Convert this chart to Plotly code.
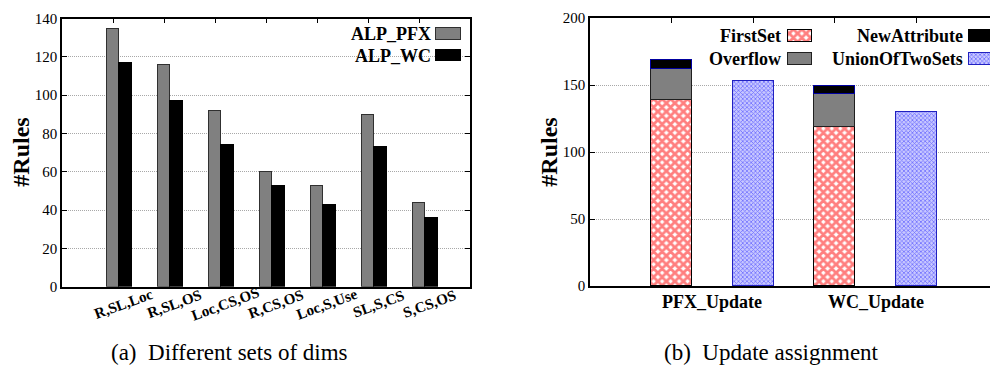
import plotly.graph_objects as go

W, H = 990, 379

# ---------------- data ----------------
dims_labels = ["R,SL,Loc", "R,SL,OS", "Loc,CS,OS", "R,CS,OS", "Loc,S,Use", "SL,S,CS", "S,CS,OS"]
alp_pfx = [135, 116, 92, 60, 53, 90, 44]
alp_wc = [117, 97, 74, 53, 43, 73, 36]

update_labels = ["PFX_Update", "WC_Update"]
first_set = [139, 119]
overflow = [23, 24]
new_attribute = [7, 6]
union_two_sets = [153, 130]

captions = ["(a)\u2002Different sets of dims", "(b)\u2002Update assignment"]

# ---------------- styling ----------------
SERIF = "Liberation Serif"
RED_PAT = dict(shape="x", fgcolor="#ff0000", bgcolor="white", size=6, solidity=0.72)
BLUE_PAT = dict(shape="x", fgcolor="#1515ff", bgcolor="#c8c8ff", size=3, solidity=0.45)
GRAY = "#808080"
GRID = dict(showgrid=True, gridcolor="#a8a8a8", griddash="1px,1px", gridwidth=1)


def px_x(p):
    return p / W


def px_y(p):
    return 1 - p / H


fig = go.Figure()

# ---- left chart: clustered bars ----
n = len(dims_labels)
bw = 0.25
fig.add_trace(go.Bar(x=list(range(n)), y=alp_pfx, width=bw, name="ALP_PFX",
                     marker=dict(color=GRAY, line=dict(color="#303030", width=1)),
                     xaxis="x", yaxis="y", showlegend=False))
fig.add_trace(go.Bar(x=[i + bw for i in range(n)], y=alp_wc, width=bw, name="ALP_WC",
                     marker=dict(color="black", line=dict(color="black", width=1)),
                     xaxis="x", yaxis="y", showlegend=False))

# ---- right chart: stacked bars + union bars ----
g = len(update_labels)
stack_x = [2 * k + 1 for k in range(g)]
union_x = [2 * k + 2 for k in range(g)]
fig.add_trace(go.Bar(x=stack_x, y=first_set, width=0.5, name="FirstSet",
                     marker=dict(color="white", pattern=RED_PAT, line=dict(color="black", width=1)),
                     xaxis="x2", yaxis="y2", showlegend=False))
fig.add_trace(go.Bar(x=stack_x, y=overflow, width=0.5, name="Overflow",
                     marker=dict(color=GRAY, line=dict(color="#202020", width=1)),
                     xaxis="x2", yaxis="y2", showlegend=False))
fig.add_trace(go.Bar(x=stack_x, y=new_attribute, width=0.5, name="NewAttribute",
                     marker=dict(color="black", line=dict(color="#0000a0", width=1)),
                     xaxis="x2", yaxis="y2", showlegend=False))
fig.add_trace(go.Bar(x=union_x, y=union_two_sets, width=0.5, name="UnionOfTwoSets",
                     marker=dict(color="white", pattern=BLUE_PAT, line=dict(color="#2020c0", width=1)),
                     xaxis="x2", yaxis="y2", showlegend=False))

# ---- legend samples (drawn on a hidden pixel-space axis pair) ----
legend_boxes = [
    # (x_left, x_right, y_top, y_bottom, marker)
    (436, 461, 21, 33, dict(color=GRAY, line=dict(color="#303030", width=1))),
    (436, 461, 44, 55.5, dict(color="black", line=dict(color="black", width=1))),
    (788, 812, 23, 35, dict(color="white", pattern=RED_PAT, line=dict(color="black", width=1))),
    (788, 812, 47, 59, dict(color=GRAY, line=dict(color="#202020", width=1))),
    (969, 994, 23, 35, dict(color="black", line=dict(color="black", width=1))),
    (969, 994, 47, 59, dict(color="white", pattern=BLUE_PAT, line=dict(color="#2020c0", width=1))),
]
for x0, x1, y0, y1, mk in legend_boxes:
    fig.add_trace(go.Bar(x=[(x0 + x1) / 2], y=[y1 - y0], base=[y0], width=x1 - x0,
                         marker=mk, xaxis="x3", yaxis="y3", showlegend=False,
                         hoverinfo="skip"))

legend_texts = [
    ("ALP_PFX", 432, 27),
    ("ALP_WC", 432, 50),
    ("FirstSet", 782, 29.5),
    ("Overflow", 782, 53.5),
    ("NewAttribute", 964, 29.5),
    ("UnionOfTwoSets", 964, 53.5),
]

annotations = []
for txt, xr, yc in legend_texts:
    annotations.append(dict(text="<b>%s</b>" % txt, x=xr, y=yc, xref="x3", yref="y3",
                            xanchor="right", yanchor="middle", showarrow=False, borderpad=0,
                            font=dict(family=SERIF, size=18, color="black")))

# x tick labels of left chart (rotated)
for i, lab in enumerate(dims_labels):
    annotations.append(dict(text="<b>%s</b>" % lab, x=i + 0.2, y=309, xref="x", yref="y3",
                            xanchor="center", yanchor="middle", textangle=-20, showarrow=False,
                            font=dict(family=SERIF, size=15, color="black")))

# x labels of right chart (between the bar pairs)
for k, lab in enumerate(update_labels):
    annotations.append(dict(text="<b>%s</b>" % lab, x=2 * k + 1.5, y=307, xref="x2", yref="y3",
                            xanchor="center", yanchor="middle", showarrow=False,
                            font=dict(family=SERIF, size=18, color="black")))

# y titles
for xc in (21, 549):
    annotations.append(dict(text="<b>#Rules</b>", x=xc, y=151, xref="x3", yref="y3",
                            xanchor="center", yanchor="middle", textangle=-90, showarrow=False,
                            font=dict(family=SERIF, size=24, color="black")))

# captions
for cap, xc in zip(captions, (229, 771)):
    annotations.append(dict(text=cap, x=xc, y=360, xref="x3", yref="y3",
                            xanchor="center", yanchor="middle", showarrow=False,
                            font=dict(family=SERIF, size=23, color="black")))

axis_common = dict(showline=True, linecolor="black", linewidth=1.5, ticks="inside",
                   ticklen=5, tickcolor="black", tickwidth=1, zeroline=False,
                   tickfont=dict(family=SERIF, size=15, color="black"))

fig.update_layout(
    width=W, height=H,
    margin=dict(l=0, r=0, t=0, b=0),
    paper_bgcolor="white", plot_bgcolor="rgba(0,0,0,0)",
    barmode="stack", bargap=0,
    showlegend=False,
    annotations=annotations,
    xaxis=dict(domain=[px_x(62), px_x(470)], range=[-1, 7], anchor="y", side="top",
               tickvals=list(range(n)), showticklabels=False, mirror=True, showgrid=False,
               **axis_common),
    yaxis=dict(domain=[px_y(291), px_y(11)], range=[0, 140], dtick=20, anchor="x",
               mirror="ticks", **GRID, **axis_common),
    xaxis2=dict(domain=[px_x(590), 1], range=[0, 400 / 81.6], anchor="y2", side="top",
                tickvals=stack_x + union_x, showticklabels=False, mirror=True, showgrid=False,
                **axis_common),
    yaxis2=dict(domain=[px_y(290.5), px_y(10.7)], range=[0, 200], dtick=50, anchor="x2",
                mirror=False, **GRID, **axis_common),
    xaxis3=dict(domain=[0, 1], range=[0, W], visible=False, anchor="y3", fixedrange=True),
    yaxis3=dict(domain=[0, 1], range=[H, 0], visible=False, anchor="x3", fixedrange=True),
)

fig.write_html("out.html", config={"displayModeBar": False},
               post_script="document.body.style.margin='0px';document.body.style.overflow='hidden';")
